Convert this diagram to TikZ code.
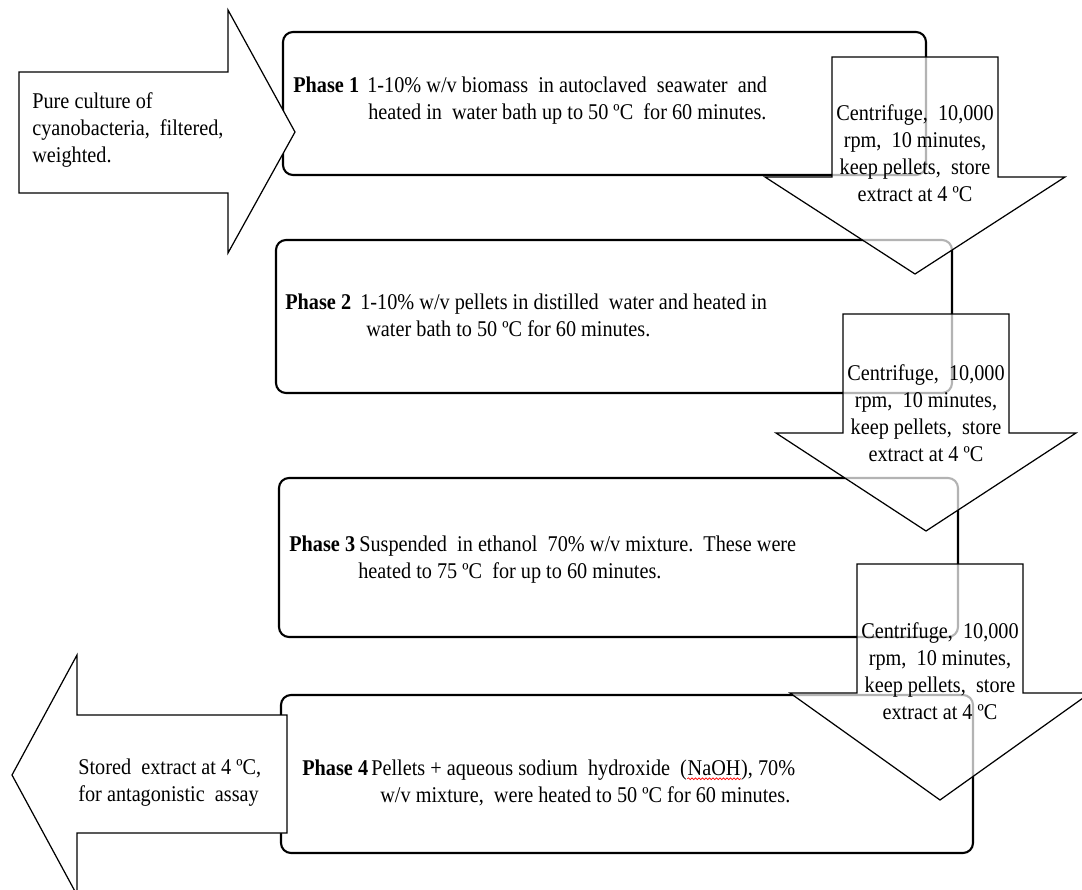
\documentclass[tikz,border=0pt]{standalone}
\usepackage{fontspec}
\setmainfont{Liberation Serif}[FakeStretch=0.9]
\usetikzlibrary{decorations.pathmorphing}
\newcommand\spellwave[1]{\tikz[baseline=(w.base)]{\node[inner sep=0pt] (w) {#1};
    \draw[red,line width=0.4pt,decorate,decoration={snake,amplitude=0.5pt,segment length=2pt}]
        ([yshift=-1.5pt]w.south west) -- ([yshift=-1.5pt]w.south east);}}

\begin{document}
\begin{tikzpicture}[x=0.2mm,y=-0.2mm,font=\fontsize{12.8}{15.4}\selectfont,
        phasebox/.style={line width=1.2pt,rounded corners=2mm},
        blockarrow/.style={draw=black,line width=0.7pt,fill=white},
        spinarrow/.style={blockarrow,fill opacity=0.7},
        phasetext/.style={anchor=west,align=left,inner sep=0pt},
        spintext/.style={align=center,inner sep=0pt}]
    \useasboundingbox[fill=white] (0,0) rectangle (1082,890);
    % the four phases
    \draw[phasebox] (283,32) rectangle (926,175);
    \draw[phasebox] (276,240) rectangle (952,393);
    \draw[phasebox] (279,478) rectangle (958,637);
    \draw[phasebox] (281,695) rectangle (973,853);
    % in and out
    \draw[blockarrow] (19,72) -- (228,72) -- (228,10) -- (295,132) -- (228,253) -- (228,193) -- (19,193) -- cycle;
    \draw[blockarrow] (287,715) -- (77,715) -- (77,655) -- (12,775) -- (77,895) -- (77,833) -- (287,833) -- cycle;
    \node[phasetext] (culture) at (32,130) {Pure culture of\\cyanobacteria,\ \ filtered,\\weighted.};
    \node[phasetext] (stored) at (78,783) {Stored\ \ extract at 4 ºC,\\for antagonistic\ \ assay};
    \node[phasetext] (phase1) at (293,101) {\makebox[14.8mm][l]{\textbf{Phase 1}}1-10\% w/v biomass\ \ in autoclaved\ \ seawater\ \ and\\\hspace*{15mm}heated in\ \ water bath up to 50 ºC\ \ for 60 minutes.};
    \node[phasetext] (phase2) at (285,315) {\makebox[15mm][l]{\textbf{Phase 2}}1-10\% w/v pellets in distilled\ \ water and heated in\\\hspace*{16.2mm}water bath to 50 ºC for 60 minutes.};
    \node[phasetext] (phase3) at (289,560) {\makebox[14mm][l]{\textbf{Phase 3}}Suspended\ \ in ethanol\ \ 70\% w/v mixture.\ \ These were\\\hspace*{13.8mm}heated to 75 ºC\ \ for up to 60 minutes.};
    \node[phasetext] (phase4) at (302,783) {\makebox[13.8mm][l]{\textbf{Phase 4}}Pellets + aqueous sodium\ \ hydroxide\ \ (\spellwave{NaOH}), 70\%\\\hspace*{15.6mm}w/v mixture,\ \ were heated to 50 ºC for 60 minutes.};
    % centrifuge steps
    \foreach \cx/\ytop/\yhead/\ytip/\ytext/\n in {915/57/177/274/153/1,926/314/433/531/413/2,940/564/693/800/671/3}{
        \draw[spinarrow] ({\cx-83},\ytop) -- ({\cx+83},\ytop) -- ({\cx+83},\yhead) -- ({\cx+150},\yhead)
            -- (\cx,\ytip) -- ({\cx-150},\yhead) -- ({\cx-83},\yhead) -- cycle;
        \node[spintext] (spin\n) at (\cx,\ytext) {Centrifuge,\ \ 10,000\\rpm,\ \ 10 minutes,\\keep pellets,\ \ store\\extract at 4 ºC};
    }
\end{tikzpicture}
\end{document}
